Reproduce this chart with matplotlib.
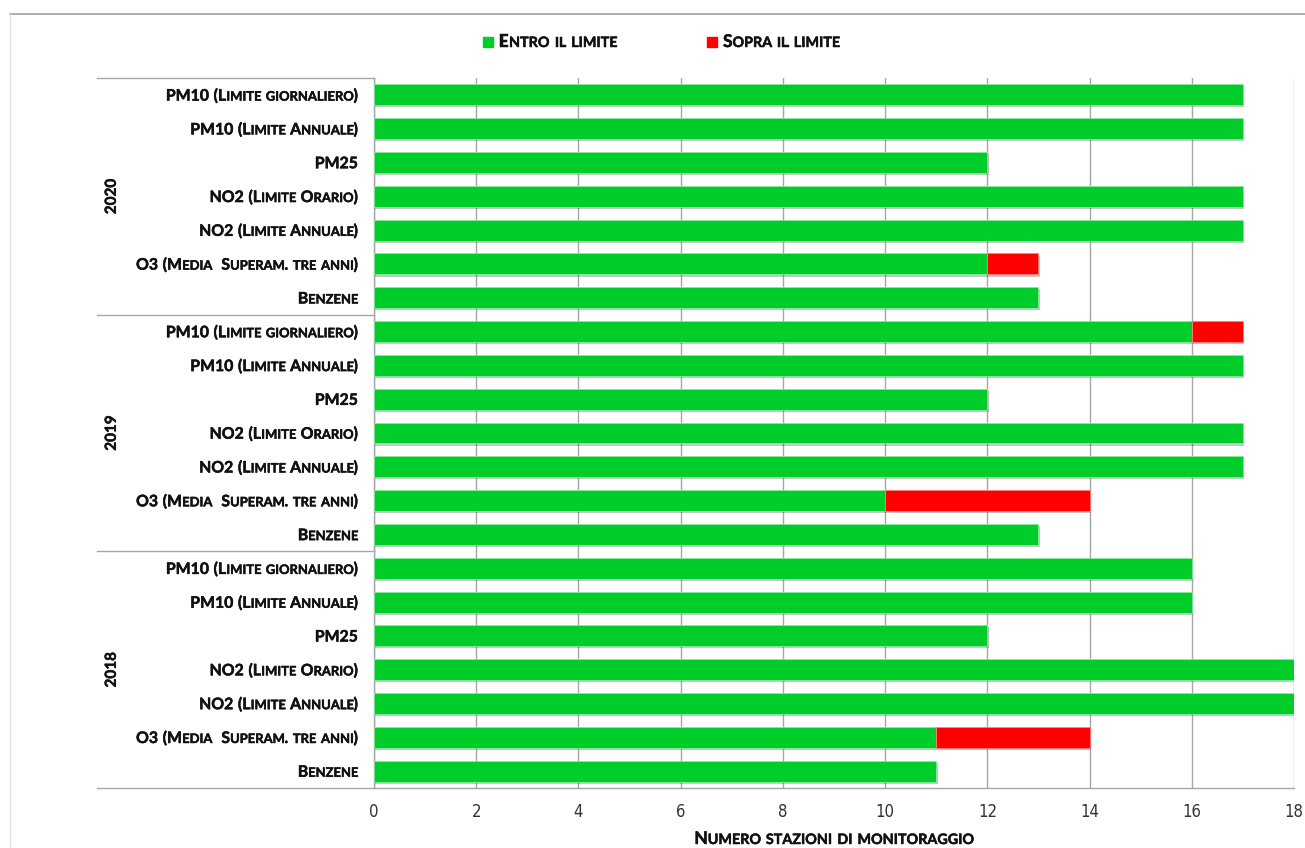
import matplotlib
matplotlib.use("Agg")
import matplotlib.pyplot as plt
import matplotlib.patheffects as pe
from matplotlib.transforms import offset_copy, blended_transform_factory
from matplotlib.lines import Line2D

# dati: stazioni entro / sopra il limite, dall'alto verso il basso
years = ["2020", "2019", "2018"]
pollutants = ["PM10 (Limite giornaliero)", "PM10 (Limite Annuale)", "PM25",
              "NO2 (Limite Orario)", "NO2 (Limite Annuale)",
              "O3 (Media  Superam. tre anni)", "Benzene"]
entro = [17, 17, 12, 17, 17, 12, 13,
         16, 17, 12, 17, 17, 10, 13,
         16, 16, 12, 18, 18, 11, 11]
sopra = [0, 0, 0, 0, 0, 1, 0,
         1, 0, 0, 0, 0, 4, 0,
         0, 0, 0, 0, 0, 3, 0]
legend_labels = ["Entro il limite", "Sopra il limite"]
x_ticks = [0, 2, 4, 6, 8, 10, 12, 14, 16, 18]
x_label = "Numero stazioni di monitoraggio"

GREEN = "#00CC2A"
RED = "#FF0000"
GRID = "#A6A6A6"
TXT = "#111111"
FONT = "Lato"
THICK = [pe.withStroke(linewidth=0.35, foreground=TXT)]

W, H, DPI = 1305, 848, 100
fig = plt.figure(figsize=(W / DPI, H / DPI), dpi=DPI)
ax = fig.add_axes([374 / W, 1 - 788 / H, 920 / W, 710 / H])
renderer = fig.canvas.get_renderer()


def smallcaps(parent, x, y, s, size, transform, ha="right", xoff=0, yoff=0,
              ratio=0.82, color=TXT):
    # split into runs: capitals at full size, lowercase as smaller capitals
    runs = []
    gap = 0
    cls = None
    for c in s:
        if c == " ":
            gap += 0.29 * size
            cls = None
            continue
        c_cls = "low" if c.islower() else "up"
        if c_cls == cls and gap == 0:
            runs[-1][0] += c.upper()
        else:
            runs.append([c.upper(), size * ratio if c_cls == "low" else size, gap])
            gap = 0
        cls = c_cls
    # measure
    widths = []
    for txt, sz, _ in runs:
        t = fig.text(0, 0, txt, fontsize=sz, fontweight="bold", family=FONT)
        widths.append(t.get_window_extent(renderer).width * 72 / DPI)
        t.remove()
    total = sum(widths) + sum(r[2] for r in runs)
    pos = {"right": -total, "center": -total / 2, "left": 0}[ha] + xoff
    dy = yoff - 0.36 * size
    for (txt, sz, g), w in zip(runs, widths):
        pos += g
        tr = offset_copy(transform, fig=fig, x=pos, y=dy, units="points")
        parent.text(x, y, txt, transform=tr, fontsize=sz, fontweight="bold",
                    family=FONT, color=color, ha="left", va="baseline",
                    path_effects=THICK)
        pos += w


rows = list(range(len(entro)))
shadow = [pe.SimplePatchShadow(offset=(1, -1.5), alpha=0.25), pe.Normal()]
b1 = ax.barh(rows, entro, height=0.62, color=GREEN, edgecolor="#8BE8A0",
             linewidth=0.6, zorder=3)
b2 = ax.barh(rows, sopra, left=entro, height=0.62, color=RED,
             edgecolor="#FF8080", linewidth=0.6, zorder=3)
for bar in list(b1) + list(b2):
    if bar.get_width() > 0:
        bar.set_path_effects(shadow)
    else:
        bar.set_visible(False)

ax.set_xlim(0, 18)
ax.set_ylim(len(entro) - 0.5, -0.5)
ax.set_xticks(x_ticks)
ax.set_xticklabels([str(v) for v in x_ticks], family="DejaVu Sans",
                   fontstretch="condensed", fontsize=12, color="#333333")
ax.tick_params(axis="x", length=0, pad=11)
ax.set_yticks([])
ax.xaxis.grid(True, color=GRID, linewidth=1.0, zorder=0)
ax.set_axisbelow(True)
for side in ["top", "right"]:
    ax.spines[side].set_visible(False)
for side in ["left", "bottom"]:
    ax.spines[side].set_color(GRID)
    ax.spines[side].set_linewidth(1.0)

# etichette delle categorie e degli anni
lbl_tr = blended_transform_factory(ax.transAxes, ax.transData)
n = len(pollutants)
for i, r in enumerate(rows):
    smallcaps(ax, 0, r, pollutants[i % n], 11.4, lbl_tr, ha="right", xoff=-11.5)
for g, yr in enumerate(years):
    ax.text(-0.285, g * n + (n - 1) / 2, yr, transform=lbl_tr, rotation=90,
            fontsize=11, fontweight="bold", family=FONT, color=TXT,
            ha="center", va="center", path_effects=THICK)
for g in range(len(years) + 1):
    ax.add_line(Line2D([-0.301, 0], [g * n - 0.5] * 2, transform=lbl_tr,
                       color=GRID, linewidth=1.0, clip_on=False))

# titolo asse x
smallcaps(fig, 834 / W, 1 - 844 / H, x_label, 12.6, fig.transFigure, ha="center",
          yoff=0.36 * 12.6)

# legenda
for (lx, col), lab in zip([(483, GREEN), (707, RED)], legend_labels):
    fig.patches.append(plt.Rectangle((lx / W, 1 - 47 / H), 10 / W, 10 / H,
                                     transform=fig.transFigure, color=col))
    smallcaps(fig, (lx + 16) / W, 1 - 47 / H, lab, 12.6, fig.transFigure,
              ha="left", yoff=0.36 * 12.6)

# cornice
fig.add_artist(Line2D([10 / W, 1], [1 - 14 / H] * 2, transform=fig.transFigure,
                      color="#A0A0A0", linewidth=1.2))
fig.add_artist(Line2D([10 / W, 10 / W], [1 - 14 / H, 0], transform=fig.transFigure,
                      color="#E0E0E0", linewidth=1.0))

fig.savefig("out.png", dpi=DPI)
